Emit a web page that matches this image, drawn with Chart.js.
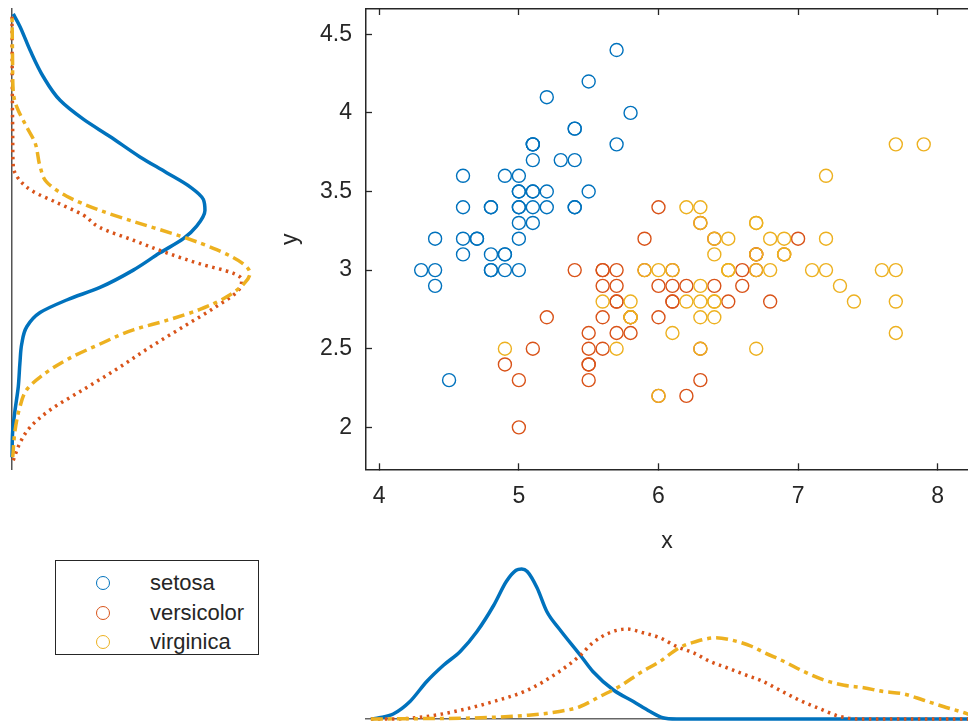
<!DOCTYPE html>
<html>
<head>
<meta charset="utf-8">
<script src="https://cdn.jsdelivr.net/npm/chart.js@4.4.1/dist/chart.umd.min.js"></script>
<style>
  body { margin: 0; background: #fff; width: 968px; height: 722px; overflow: hidden; position: relative; }
  canvas { position: absolute; }
  #legend { position: absolute; left: 55px; top: 560px; width: 202px; height: 93px; border: 1.5px solid #262626; background: #fff;
            font-family: 'Liberation Sans', Arial, sans-serif; font-size: 22px; color: #262626; }
  .row { position: absolute; left: 0; height: 28px; line-height: 28px; }
  .dot { position: absolute; left: 40px; top: 7px; width: 12px; height: 12px; border-radius: 50%; border: 1.6px solid; }
  .lab { position: absolute; left: 94px; white-space: nowrap; }
</style>
</head>
<body>
<canvas id="left" width="270" height="480" style="left:0;top:0"></canvas>
<canvas id="main" width="702" height="560" style="left:266px;top:0"></canvas>
<canvas id="bottom" width="702" height="182" style="left:266px;top:540px"></canvas>
<div id="legend"></div>
<script>
// Fisher iris: sepal length (x) and sepal width (y)
var species = ['setosa', 'versicolor', 'virginica'];
var colors = ['#0072BD', '#D95319', '#EDB120'];

var setosaLength = [5.1,4.9,4.7,4.6,5.0,5.4,4.6,5.0,4.4,4.9,5.4,4.8,4.8,4.3,5.8,5.7,5.4,5.1,5.7,5.1,5.4,5.1,4.6,5.1,4.8,5.0,5.0,5.2,5.2,4.7,4.8,5.4,5.2,5.5,4.9,5.0,5.5,4.9,4.4,5.1,5.0,4.5,4.4,5.0,5.1,4.8,5.1,4.6,5.3,5.0];
var setosaWidth  = [3.5,3.0,3.2,3.1,3.6,3.9,3.4,3.4,2.9,3.1,3.7,3.4,3.0,3.0,4.0,4.4,3.9,3.5,3.8,3.8,3.4,3.7,3.6,3.3,3.4,3.0,3.4,3.5,3.4,3.2,3.1,3.4,4.1,4.2,3.1,3.2,3.5,3.6,3.0,3.4,3.5,2.3,3.2,3.5,3.8,3.0,3.8,3.2,3.7,3.3];
var versicolorLength = [7.0,6.4,6.9,5.5,6.5,5.7,6.3,4.9,6.6,5.2,5.0,5.9,6.0,6.1,5.6,6.7,5.6,5.8,6.2,5.6,5.9,6.1,6.3,6.1,6.4,6.6,6.8,6.7,6.0,5.7,5.5,5.5,5.8,6.0,5.4,6.0,6.7,6.3,5.6,5.5,5.5,6.1,5.8,5.0,5.6,5.7,5.7,6.2,5.1,5.7];
var versicolorWidth  = [3.2,3.2,3.1,2.3,2.8,2.8,3.3,2.4,2.9,2.7,2.0,3.0,2.2,2.9,2.9,3.1,3.0,2.7,2.2,2.5,3.2,2.8,2.5,2.8,2.9,3.0,2.8,3.0,2.9,2.6,2.4,2.4,2.7,2.7,3.0,3.4,3.1,2.3,3.0,2.5,2.6,3.0,2.6,2.3,2.7,3.0,2.9,2.9,2.5,2.8];
var virginicaLength = [6.3,5.8,7.1,6.3,6.5,7.6,4.9,7.3,6.7,7.2,6.5,6.4,6.8,5.7,5.8,6.4,6.5,7.7,7.7,6.0,6.9,5.6,7.7,6.3,6.7,7.2,6.2,6.1,6.4,7.2,7.4,7.9,6.4,6.3,6.1,7.7,6.3,6.4,6.0,6.9,6.7,6.9,5.8,6.8,6.7,6.7,6.3,6.5,6.2,5.9];
var virginicaWidth  = [3.3,2.7,3.0,2.9,3.0,3.0,2.5,2.9,2.5,3.6,3.2,2.7,3.0,2.5,2.8,3.2,3.0,3.8,2.6,2.2,3.2,2.8,2.8,2.7,3.3,3.2,2.8,3.0,2.8,3.0,2.8,3.8,2.8,2.8,2.6,3.0,3.4,3.1,3.0,3.1,3.1,3.1,2.7,3.2,3.3,3.0,2.5,3.0,3.4,3.0];

// marginal densities of x
var setosaKx  = [3.94,4.00,4.10,4.22,4.34,4.46,4.58,4.70,4.82,4.91,4.98,5.02,5.06,5.13,5.20,5.29,5.44,5.53,5.68,5.82,5.94,6.03,6.13,8.22];
var setosaKd  = [0,0.01,0.04,0.14,0.30,0.43,0.54,0.70,0.91,1.10,1.19,1.20,1.18,1.05,0.86,0.72,0.51,0.38,0.23,0.14,0.06,0.01,0,0];
var versicolorKx = [3.94,4.10,4.34,4.58,4.82,5.06,5.29,5.44,5.53,5.65,5.77,5.89,6.01,6.13,6.25,6.37,6.49,6.63,6.73,6.87,7.01,7.16,7.30,7.44,8.22];
var versicolorKd = [0,0,0.02,0.07,0.14,0.23,0.38,0.51,0.61,0.69,0.72,0.69,0.65,0.58,0.53,0.46,0.41,0.35,0.31,0.23,0.15,0.08,0.02,0,0];
var virginicaKx = [3.94,4.30,4.58,4.82,5.06,5.29,5.44,5.58,5.72,5.87,6.01,6.15,6.27,6.41,6.53,6.67,6.76,6.90,7.04,7.19,7.33,7.47,7.61,7.76,7.90,8.04,8.19,8.24];
var virginicaKd = [0,0.003,0.006,0.014,0.03,0.06,0.10,0.18,0.26,0.37,0.46,0.57,0.62,0.65,0.63,0.58,0.53,0.46,0.38,0.31,0.27,0.25,0.22,0.20,0.15,0.10,0.05,0.03];

// marginal densities of y
var setosaKy  = [1.81,1.98,2.11,2.26,2.41,2.53,2.64,2.73,2.81,2.89,3.00,3.11,3.20,3.28,3.38,3.45,3.53,3.62,3.72,3.85,3.96,4.08,4.23,4.40,4.55,4.63];
var setosaKyd = [0,0.004,0.017,0.035,0.044,0.054,0.082,0.156,0.304,0.489,0.674,0.822,0.952,1.026,1.072,1.063,0.989,0.859,0.711,0.544,0.396,0.267,0.174,0.10,0.044,0.007];
var versicolorKy  = [1.79,1.90,2.00,2.11,2.24,2.37,2.51,2.64,2.77,2.87,2.94,2.98,3.04,3.11,3.19,3.27,3.35,3.43,3.50,3.57,3.66,3.83,4.08,4.63];
var versicolorKyd = [0.007,0.044,0.10,0.211,0.396,0.581,0.767,0.952,1.137,1.257,1.276,1.230,1.044,0.859,0.674,0.49,0.396,0.248,0.118,0.044,0.007,0.004,0.002,0];
var virginicaKy  = [1.81,1.98,2.13,2.24,2.32,2.43,2.53,2.62,2.68,2.75,2.83,2.92,2.98,3.04,3.13,3.21,3.31,3.38,3.47,3.56,3.66,3.81,3.91,4.04,4.13,4.34,4.63];
var virginicaKyd = [0.004,0.017,0.044,0.082,0.156,0.304,0.489,0.674,0.859,1.044,1.193,1.294,1.322,1.285,1.137,0.952,0.674,0.489,0.304,0.193,0.156,0.128,0.082,0.026,0.007,0.003,0];

var xTicks = [4, 5, 6, 7, 8];
var yTicks = [2, 2.5, 3, 3.5, 4, 4.5];
var xRange = [3.905, 8.217];
var yRange = [1.733, 4.661];

var font = {family: "'Liberation Sans', Arial, sans-serif", size: 23};
var ink = '#262626';
var lineDash = [[], [2.5, 4.5], [12, 5, 4, 5]];

function pairs(a, b, swap) {
    return a.map(function(v, i) { return swap ? {x: b[i], y: v} : {x: v, y: b[i]}; });
}
function noPad(s) {
    s.paddingTop = 0; s.paddingBottom = 0; s.paddingLeft = 0; s.paddingRight = 0;
}

var tickGrid = {drawOnChartArea: false, drawTicks: true, tickLength: -6, tickWidth: 1.3, tickColor: ink};
var axisBorder = {display: true, color: ink, width: 1.5};

// main scatter
var lengths = [setosaLength, versicolorLength, virginicaLength];
var widths = [setosaWidth, versicolorWidth, virginicaWidth];
new Chart(document.getElementById('main'), {
    type: 'scatter',
    data: {
        datasets: species.map(function(name, i) {
            return {
                label: name,
                data: pairs(lengths[i], widths[i]),
                borderColor: colors[i],
                backgroundColor: 'rgba(0,0,0,0)',
                pointRadius: 6.5,
                pointHoverRadius: 6.5,
                pointBorderWidth: 1.4,
                order: 3 - i
            };
        })
    },
    options: {
        responsive: false,
        animation: false,
        layout: {autoPadding: false, padding: {top: 9, left: 0, right: 0, bottom: 0}},
        plugins: {legend: {display: false}, tooltip: {enabled: false}},
        scales: {
            x: {
                type: 'linear', position: 'bottom', min: xRange[0], max: xRange[1],
                afterBuildTicks: function(s) { s.ticks = xTicks.map(function(v) { return {value: v}; }); },
                afterFit: function(s) { s.height = 90.7; noPad(s); },
                ticks: {font: font, color: ink, padding: 20, maxRotation: 0, autoSkip: false,
                        callback: function(v) { return String(v); }},
                grid: tickGrid,
                border: axisBorder,
                title: {display: true, text: 'x', font: font, color: ink, padding: {top: 0, bottom: 5}}
            },
            x2: {
                type: 'linear', position: 'top', display: true, min: xRange[0], max: xRange[1],
                afterBuildTicks: function(s) { s.ticks = xTicks.map(function(v) { return {value: v}; }); },
                afterFit: function(s) { s.height = 0; noPad(s); },
                ticks: {display: false},
                grid: tickGrid,
                border: axisBorder
            },
            y: {
                type: 'linear', position: 'left', min: yRange[0], max: yRange[1],
                afterBuildTicks: function(s) { s.ticks = yTicks.map(function(v) { return {value: v}; }); },
                afterFit: function(s) { s.width = 100; noPad(s); },
                ticks: {font: font, color: ink, padding: 20, autoSkip: false,
                        callback: function(v) { return String(v); }},
                grid: tickGrid,
                border: axisBorder,
                title: {display: true, text: 'y', font: font, color: ink, padding: {top: 11, bottom: 0}}
            }
        }
    }
});

// left marginal: density of y
var kyVals = [setosaKy, versicolorKy, virginicaKy];
var kyDens = [setosaKyd, versicolorKyd, virginicaKyd];
new Chart(document.getElementById('left'), {
    type: 'line',
    data: {
        datasets: species.map(function(name, i) {
            return {
                label: name,
                data: pairs(kyVals[i], kyDens[i], true),
                borderColor: colors[i],
                borderWidth: 3.5,
                borderDash: lineDash[i],
                pointRadius: 0,
                cubicInterpolationMode: 'monotone',
                clip: false,
                order: 3 - i
            };
        })
    },
    options: {
        responsive: false,
        animation: false,
        indexAxis: 'y',
        layout: {autoPadding: false, padding: {top: 9, bottom: 10.7, left: 12, right: 8}},
        plugins: {legend: {display: false}, tooltip: {enabled: false}},
        scales: {
            x: {type: 'linear', min: 0, max: 1.389, display: false},
            y: {
                type: 'linear', position: 'left', display: true, min: yRange[0], max: yRange[1],
                afterFit: function(s) { s.width = 0; noPad(s); },
                ticks: {display: false},
                grid: {display: false},
                border: {display: true, color: '#555', width: 1.5}
            }
        }
    }
});

// bottom marginal: density of x
var kxVals = [setosaKx, versicolorKx, virginicaKx];
var kxDens = [setosaKd, versicolorKd, virginicaKd];
new Chart(document.getElementById('bottom'), {
    type: 'line',
    data: {
        datasets: species.map(function(name, i) {
            return {
                label: name,
                data: pairs(kxVals[i], kxDens[i]),
                borderColor: colors[i],
                borderWidth: 3.5,
                borderDash: lineDash[i],
                pointRadius: 0,
                cubicInterpolationMode: 'monotone',
                clip: false,
                order: 3 - i
            };
        })
    },
    options: {
        responsive: false,
        animation: false,
        layout: {autoPadding: false, padding: {top: 20, bottom: 3, left: 100, right: 0}},
        plugins: {legend: {display: false}, tooltip: {enabled: false}},
        scales: {
            x: {
                type: 'linear', position: 'bottom', display: true, min: xRange[0], max: xRange[1],
                afterFit: function(s) { s.height = 0; noPad(s); },
                ticks: {display: false},
                grid: {display: false},
                border: {display: true, color: '#666', width: 1.5}
            },
            y: {type: 'linear', min: 0, max: 1.272, display: false}
        }
    }
});

// legend
var legend = document.getElementById('legend');
species.forEach(function(name, i) {
    var row = document.createElement('div');
    row.className = 'row';
    row.style.top = (8 + i * 29.5) + 'px';
    row.innerHTML = '<span class="dot" style="border-color:' + colors[i] + '"></span><span class="lab">' + name + '</span>';
    legend.appendChild(row);
});
</script>
</body>
</html>
